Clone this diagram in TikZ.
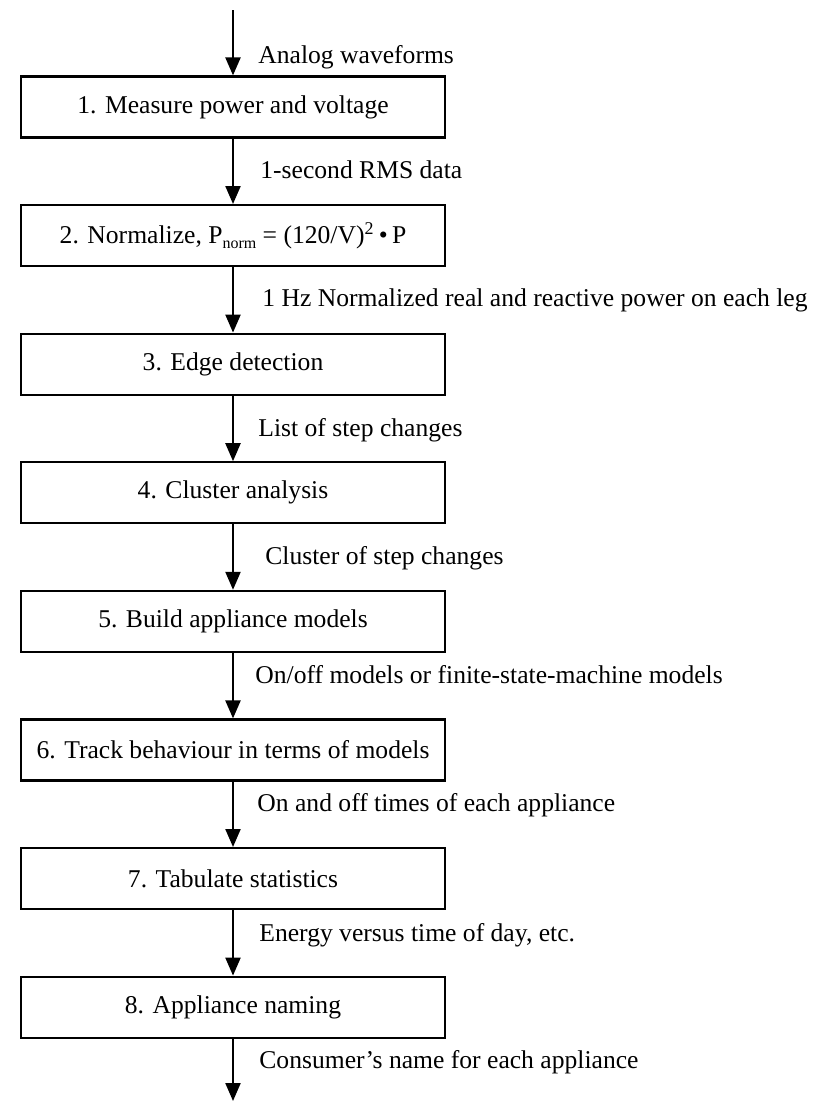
\documentclass[tikz,border=0pt]{standalone}
\usepackage{fontspec}
\setmainfont{Liberation Serif}
\usetikzlibrary{arrows.meta}
\begin{document}
\begin{tikzpicture}[x=0.5pt,y=-0.5pt,
  box/.style={draw,line width=1.1pt,minimum width=212pt,minimum height=30.5pt,inner sep=0pt,font=\fontsize{12.8}{15}\selectfont},
  lbl/.style={anchor=west,inner sep=0pt,font=\fontsize{12.8}{15}\selectfont},
  flow/.style={line width=1.1pt,-{Triangle[width=7.5pt,length=9pt]}}]
\useasboundingbox (0,0) rectangle (827,1103);
\node[box] (b1) at (233,107) {1. Measure power and voltage};
\node[box] (b2) at (233,235.6) {2. Normalize, P\raisebox{-0.45ex}{\fontsize{8}{9}\selectfont norm} = (120/V)\textsuperscript{2}\,\textbullet\,P};
\node[box] (b3) at (233,364.2) {3. Edge detection};
\node[box] (b4) at (233,492.8) {4. Cluster analysis};
\node[box] (b5) at (233,621.4) {5. Build appliance models};
\node[box] (b6) at (233,750) {6. Track behaviour in terms of models};
\node[box] (b7) at (233,878.6) {7. Tabulate statistics};
\node[box] (b8) at (233,1007.2) {8. Appliance naming};
\coordinate (in) at (233,10);
\coordinate (out) at (233,1101);
\draw[flow] (in) -- (b1.north);
\draw[flow] (b1) -- (b2);
\draw[flow] (b2) -- (b3);
\draw[flow] (b3) -- (b4);
\draw[flow] (b4) -- (b5);
\draw[flow] (b5) -- (b6);
\draw[flow] (b6) -- (b7);
\draw[flow] (b7) -- (b8);
\draw[flow] (b8.south) -- (out);
\node[lbl] (l0) at (258,57) {Analog waveforms};
\node[lbl] (l1) at (260,170) {1-second RMS data};
\node[lbl] (l2) at (262,300) {1 Hz Normalized real and reactive power on each leg};
\node[lbl] (l3) at (258,430) {List of step changes};
\node[lbl] (l4) at (265,558) {Cluster of step changes};
\node[lbl] (l5) at (255,675) {On/off models or finite-state-machine models};
\node[lbl] (l6) at (257,805) {On and off times of each appliance};
\node[lbl] (l7) at (259,935) {Energy versus time of day, etc.};
\node[lbl] (l8) at (259,1062) {Consumer’s name for each appliance};
\end{tikzpicture}
\end{document}
